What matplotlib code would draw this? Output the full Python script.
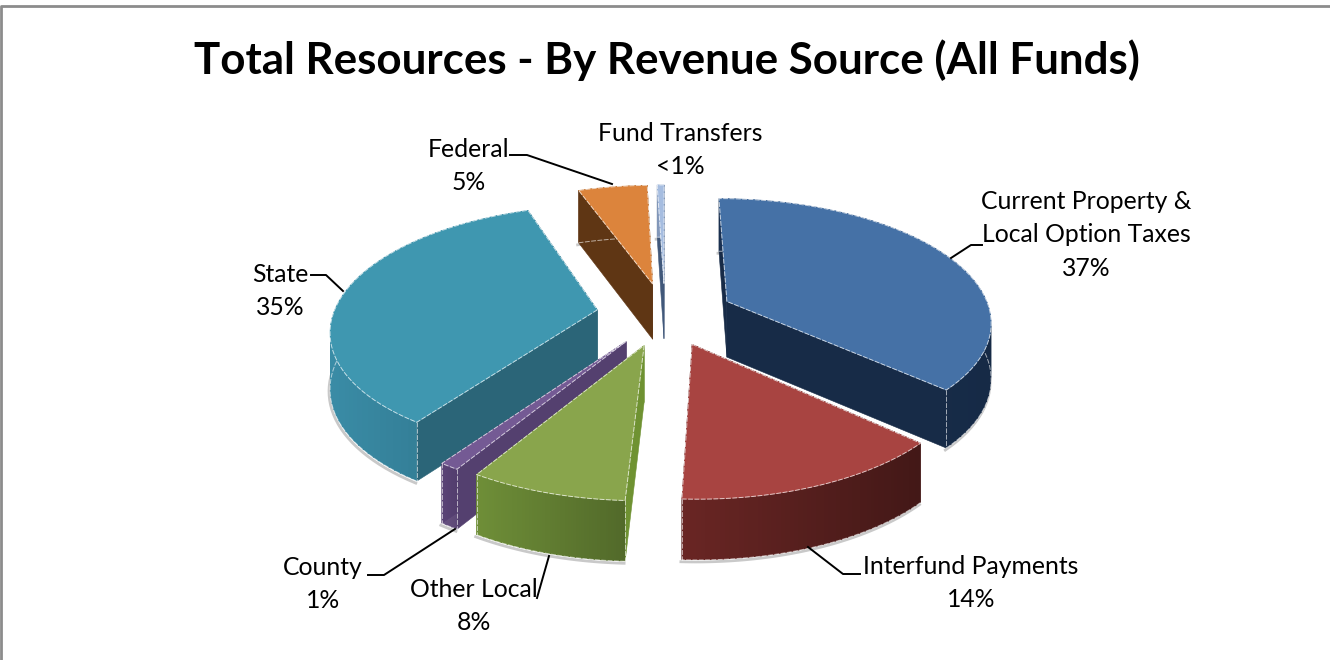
import matplotlib
matplotlib.use('Agg')
import matplotlib.pyplot as plt
import numpy as np
from matplotlib.colors import to_rgb
from matplotlib.patches import Polygon

plt.rcParams['font.family'] = ['Lato', 'DejaVu Sans']

categories = ['Current Property &\nLocal Option Taxes', 'Interfund Payments', 'Other Local',
              'County', 'State', 'Federal', 'Fund Transfers']
values = [37, 14, 8, 1, 35, 5, 0.5]
pct_labels = ['37%', '14%', '8%', '1%', '35%', '5%', '<1%']

top_colors = ['#4571a6', '#a84441', '#89a54c', '#745a94', '#3f97b0', '#dc843c', '#a6bde0']
wall_left = ['#1a3050', '#6a2624', '#6f8f38', '#5c4578', '#3a8ca6', '#5f3614', '#8da2c4']
wall_right = ['#162a46', '#431817', '#526a2a', '#533d6e', '#2d7087', '#5f3614', '#8da2c4']
radial_colors = ['#172b47', '#4a1b1a', '#6f9232', '#54406f', '#2b6578', '#5f3614', '#41587a']

label_pos = [(1086, 235), (971, 583), (474, 606), (323, 584), (280, 291), (469, 166), (680, 150)]
leaders = [[(951, 258), (971, 245), (982, 245)],
           [(860, 574), (843, 574), (808, 547)],
           [(537, 598), (549, 556)],
           [(368, 575), (384, 575), (455, 529)],
           [(311, 275), (326, 275), (343, 291)],
           [(510, 155), (527, 155), (612, 184)]]
draw_order = [6, 5, 4, 0, 3, 2, 1]

cx, cy = 665, 314
rx, ry = 264, 121.7
persp = 0.149
depth = 56
explode = 0.26
start = 0.0


def project(x, y, drop=0.0):
    s = 1 / (1 + persp * y)
    return cx + rx * x * s, cy - ry * y * s + drop * s ** 0.4


def mix(c1, c2, t):
    c1, c2 = np.array(to_rgb(c1)), np.array(to_rgb(c2))
    return tuple(c1 + (c2 - c1) * t)


fig = plt.figure(figsize=(13.3, 6.6), dpi=100)
ax = fig.add_axes([0, 0, 1, 1])
ax.set_xlim(0, 1330)
ax.set_ylim(660, 0)
ax.axis('off')

# frame only shows on the top and left
ax.plot([1, 1, 1330], [660, 5.5, 5.5], color='#8c8c8c', lw=2, solid_capstyle='butt')

shares = np.array(values) / sum(values) * 360
ends = start + np.cumsum(shares)
starts = ends - shares

for i in draw_order:
    t = np.radians(np.linspace(starts[i], ends[i], 60))
    mid = np.radians((starts[i] + ends[i]) / 2)
    ox, oy = explode * np.sin(mid), explode * np.cos(mid)
    xs, ys = ox + np.sin(t), oy + np.cos(t)
    top_tip = project(ox, oy)
    low_tip = project(ox, oy, depth)
    top_arc = np.array([project(a, b) for a, b in zip(xs, ys)])
    low_arc = np.array([project(a, b, depth) for a, b in zip(xs, ys)])

    z = 3 + draw_order.index(i) * 3
    # soft shadow under the walls
    ax.plot(low_arc[:, 0] - 1, low_arc[:, 1] + 2, color='#c9c9c9', lw=2, zorder=z - 1)
    for k in (0, -1):
        ax.add_patch(Polygon([top_tip, top_arc[k], low_arc[k], low_tip], closed=True,
                             fc=radial_colors[i], ec=radial_colors[i], lw=0.4, zorder=z))
    span = max(top_arc[:, 0].max() - top_arc[:, 0].min(), 1)
    for k in range(len(t) - 1):
        frac = (top_arc[k, 0] - top_arc[:, 0].min()) / span
        col = mix(wall_left[i], wall_right[i], frac)
        # quads overlap the next one so no seams show
        j = min(k + 2, len(t) - 1)
        ax.add_patch(Polygon([top_arc[k], top_arc[j], low_arc[j], low_arc[k]], closed=True,
                             fc=col, ec='none', zorder=z))
    ax.plot(low_arc[:, 0], low_arc[:, 1], color='white', lw=0.7, alpha=0.6, ls=(0, (5, 1.5)), zorder=z)
    for k in (0, -1):
        if top_arc[k, 1] > top_tip[1]:
            ax.plot([top_arc[k, 0], low_arc[k, 0]], [top_arc[k, 1], low_arc[k, 1]], color='white',
                    lw=0.7, alpha=0.6, ls=(0, (5, 1.5)), zorder=z)
    face = np.vstack([top_tip, top_arc])
    ax.add_patch(Polygon(face, closed=True, fc=top_colors[i], ec=top_colors[i], lw=0.4, zorder=z + 1))
    # light bevel lines round the top face
    edge = np.vstack([top_tip, top_arc, top_tip])
    ax.plot(edge[:, 0], edge[:, 1], color='white', lw=0.7, alpha=0.7, ls=(0, (5, 1.5)), zorder=z + 2)

for pts in leaders:
    pts = np.array(pts)
    ax.plot(pts[:, 0], pts[:, 1], color='black', lw=1.4, zorder=40)

ax.text(667, 60, 'Total Resources - By Revenue Source (All Funds)', ha='center', va='center',
        fontsize=31.6, fontweight='bold', color='black')
for name, pct, (lx, ly) in zip(categories, pct_labels, label_pos):
    ax.text(lx, ly, name + '\n' + pct, ha='center', va='center', fontsize=17.8,
            linespacing=1.53, color='black', zorder=41)

fig.savefig('out.png', dpi=100)
